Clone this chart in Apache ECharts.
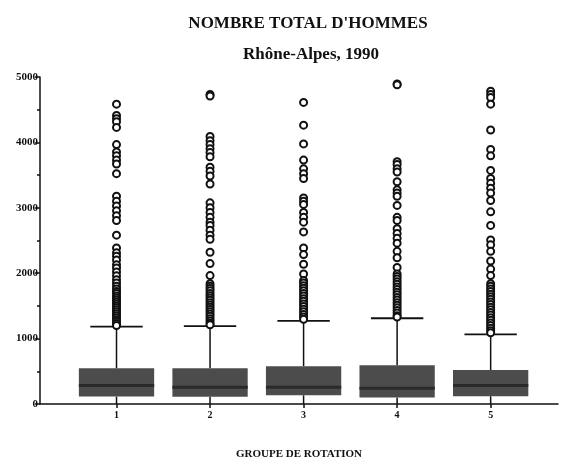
<!DOCTYPE html>
<html><head><meta charset="utf-8">
<script src="https://cdn.jsdelivr.net/npm/echarts@6/dist/echarts.min.js"></script>
<style>html,body{margin:0;padding:0;background:#fff}#c{width:561px;height:465px}</style>
</head><body><div id="c"></div>
<script>
var groups = [1, 2, 3, 4, 5];
var lowWhisker = [0, 0, 0, 0, 0];
var q1 = [115, 110, 134, 99, 119];
var median = [282, 257, 257, 242, 282];
var q3 = [545, 545, 579, 594, 520];
var highWhisker = [1183, 1192, 1272, 1311, 1064];
var outliers1 = [4585, 4412, 4363, 4314, 4229, 3967, 3854, 3794, 3730, 3670, 3522, 3176, 3101, 3027, 2953, 2879, 2805, 2582, 2385, 2311, 2260, 2200, 2130, 2080, 2020, 1960, 1900, 1850, 1800, 1760, 1720, 1690, 1650, 1620, 1590, 1560, 1530, 1500, 1470, 1440, 1410, 1380, 1350, 1320, 1290, 1260, 1230, 1200];
var outliers2 = [4734, 4709, 4091, 4026, 3967, 3903, 3844, 3780, 3621, 3557, 3487, 3364, 3076, 3002, 2928, 2854, 2780, 2731, 2656, 2582, 2518, 2320, 2147, 1963, 1840, 1800, 1765, 1730, 1690, 1655, 1620, 1585, 1550, 1515, 1480, 1445, 1410, 1375, 1340, 1305, 1270, 1235, 1210];
var outliers3 = [4611, 4264, 3977, 3730, 3596, 3522, 3448, 3151, 3101, 3052, 2928, 2854, 2780, 2631, 2385, 2285, 2137, 1989, 1889, 1850, 1810, 1770, 1730, 1690, 1650, 1610, 1570, 1530, 1490, 1450, 1410, 1370, 1330, 1295];
var outliers4 = [4893, 4880, 3706, 3661, 3596, 3547, 3398, 3275, 3225, 3176, 3037, 2854, 2805, 2681, 2607, 2533, 2459, 2334, 2236, 2088, 1989, 1950, 1910, 1870, 1830, 1790, 1750, 1710, 1670, 1630, 1590, 1550, 1510, 1470, 1430, 1390, 1350, 1330];
var outliers5 = [4783, 4734, 4685, 4585, 4190, 3893, 3794, 3572, 3448, 3374, 3300, 3225, 3111, 2938, 2731, 2508, 2434, 2334, 2186, 2063, 1963, 1840, 1800, 1760, 1720, 1680, 1640, 1600, 1560, 1520, 1480, 1440, 1400, 1360, 1320, 1280, 1240, 1200, 1160, 1120, 1090];
var outlierLists = [outliers1, outliers2, outliers3, outliers4, outliers5];
var yTicks = [0, 1000, 2000, 3000, 4000, 5000];

var boxData = groups.map(function (g, i) {
  return [g, lowWhisker[i], q1[i], median[i], q3[i], highWhisker[i]];
});
var outData = [];
outlierLists.forEach(function (list, i) {
  list.forEach(function (v) { outData.push([groups[i], v]); });
});

var serif = '"Liberation Serif", "DejaVu Serif", serif';
var chart = echarts.init(document.getElementById('c'));
chart.setOption({
  animation: false,
  backgroundColor: '#fff',
  title: [
    { text: "NOMBRE TOTAL D'HOMMES", left: 303, textAlign: 'center', top: 10,
      textStyle: { fontFamily: serif, fontWeight: 'bold', fontSize: 17, color: '#111' } },
    { text: 'Rhône-Alpes, 1990', left: 306, textAlign: 'center', top: 41,
      textStyle: { fontFamily: serif, fontWeight: 'bold', fontSize: 17, color: '#111' } }
  ],
  grid: { left: 40, right: 3, top: 77, bottom: 51 },
  xAxis: {
    type: 'value', min: 0.182, max: 5.72,
    name: 'GROUPE DE ROTATION', nameLocation: 'middle', nameGap: 45,
    nameTextStyle: { fontFamily: serif, fontWeight: 'bold', fontSize: 11, color: '#111' },
    axisLine: { show: true, onZero: false, lineStyle: { color: '#111', width: 1.5 } },
    axisTick: { show: true, length: 4, customValues: groups, lineStyle: { color: '#111', width: 1.5 } },
    axisLabel: { customValues: groups, fontFamily: serif, fontWeight: 'bold', fontSize: 10, color: '#111', margin: 6 },
    splitLine: { show: false }
  },
  yAxis: {
    type: 'value', min: 0, max: 5000, interval: 1000,
    axisLine: { show: true, lineStyle: { color: '#111', width: 1.5 } },
    axisTick: { show: true, length: 5, lineStyle: { color: '#111', width: 1.5 } },
    minorTick: { show: true, splitNumber: 2, length: 3, lineStyle: { color: '#111', width: 1.5 } },
    axisLabel: { fontFamily: serif, fontWeight: 'bold', fontSize: 11, color: '#111', margin: 2,
      customValues: yTicks, formatter: function (v) { return String(v); } },
    splitLine: { show: false }
  },
  series: [
    {
      type: 'custom',
      data: boxData,
      encode: { x: 0, y: [1, 2, 3, 4, 5] },
      renderItem: function (params, api) {
        var x = api.value(0);
        var unit = api.size([1, 0])[0];
        var bw = unit * 0.805, cw = unit * 0.56;
        var pLow = api.coord([x, api.value(1)]);
        var pQ1 = api.coord([x, api.value(2)]);
        var pMed = api.coord([x, api.value(3)]);
        var pQ3 = api.coord([x, api.value(4)]);
        var pHigh = api.coord([x, api.value(5)]);
        var cx = pQ1[0];
        return {
          type: 'group',
          children: [
            { type: 'line', shape: { x1: cx, y1: pQ3[1], x2: cx, y2: pHigh[1] }, style: { stroke: '#111', lineWidth: 1.5 } },
            { type: 'line', shape: { x1: cx, y1: pQ1[1], x2: cx, y2: pLow[1] }, style: { stroke: '#111', lineWidth: 1.5 } },
            { type: 'line', shape: { x1: cx - cw / 2, y1: pHigh[1], x2: cx + cw / 2, y2: pHigh[1] }, style: { stroke: '#111', lineWidth: 1.8 } },
            { type: 'rect', shape: { x: cx - bw / 2, y: pQ3[1], width: bw, height: pQ1[1] - pQ3[1] }, style: { fill: '#4c4c4c' } },
            { type: 'line', shape: { x1: cx - bw / 2, y1: pMed[1], x2: cx + bw / 2, y2: pMed[1] }, style: { stroke: '#2a2a2a', lineWidth: 3 } }
          ]
        };
      },
      z: 2
    },
    {
      type: 'scatter',
      data: outData,
      symbol: 'circle',
      symbolSize: 7,
      itemStyle: { color: '#fff', borderColor: '#111', borderWidth: 2, opacity: 1 },
      z: 3
    }
  ]
});
</script>
</body></html>
